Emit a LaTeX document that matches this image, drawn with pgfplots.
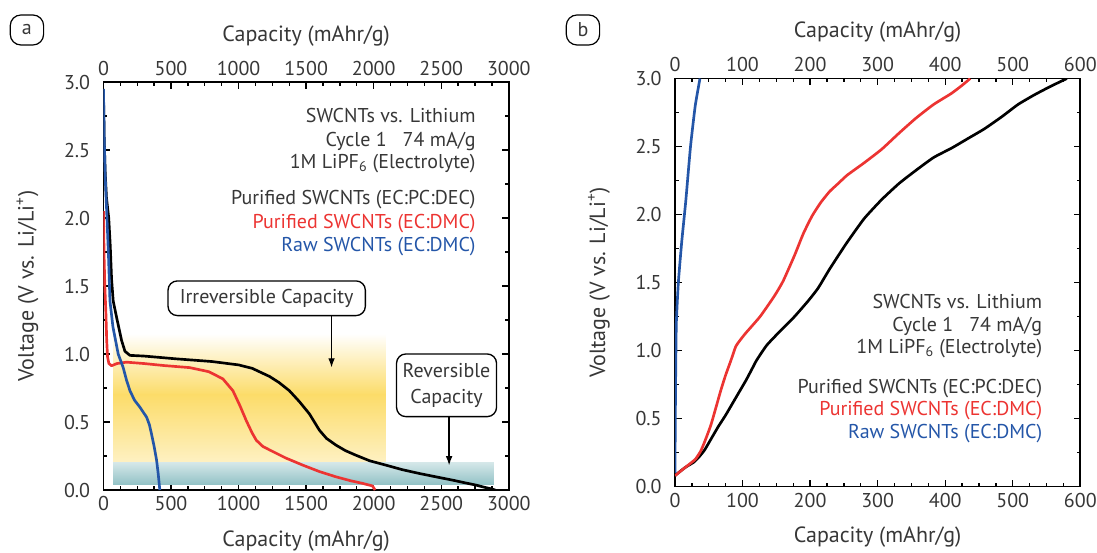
\documentclass[border=0pt]{standalone}
\usepackage{fontspec}
\setmainfont{PT Sans}
\usepackage{pgfplots}
\pgfplotsset{compat=1.18}
\usetikzlibrary{arrows.meta}

\definecolor{redc}{RGB}{236,52,50}
\definecolor{bluec}{RGB}{36,86,168}
\definecolor{yelc}{RGB}{252,220,105}
\definecolor{tealc}{RGB}{146,194,198}
\definecolor{txt}{RGB}{55,55,55}

\newcommand\labfont{\fontsize{16.5}{19}\selectfont}
\newcommand\tickfont{\fontsize{15}{17}\selectfont}

\pgfplotsset{
  vaxis/.style={
    scale only axis, width=304pt, height=306pt,
    ymin=0, ymax=3, ytick={0,0.5,1,1.5,2,2.5,3}, minor y tick num=1,
    axis line style={line width=1.4pt},
    every tick/.style={line width=1pt, black},
    major tick length=5pt, minor tick length=2.8pt,
    tick label style={font=\tickfont, text=txt},
    y tick label style={/pgf/number format/fixed, /pgf/number format/fixed zerofill, /pgf/number format/precision=1},
    /pgf/number format/assume math mode=true,
    /pgf/number format/1000 sep={},
    yticklabel shift=6.5pt, xticklabel shift=1.5pt,
    ylabel={Voltage (V vs. Li/Li\textsuperscript{+})},
    xlabel={Capacity (mAhr/g)},
    every axis y label/.style={at={(axis description cs:0,0.5)}, xshift=-57pt, rotate=90, anchor=center, font=\labfont, text=txt},
    every axis x label/.style={at={(axis description cs:0.5,0)}, yshift=-38pt, anchor=center, font=\labfont, text=txt},
  },
  topaxis/.style={
    scale only axis, width=304pt, height=306pt,
    ymin=0, ymax=3, axis x line*=top, axis y line=none,
    axis line style={draw=none}, xtick style={draw=none},
    tick label style={font=\tickfont, text=txt},
    /pgf/number format/assume math mode=true,
    /pgf/number format/1000 sep={},
    xticklabel shift=1.5pt,
    xlabel={Capacity (mAhr/g)},
    every axis x label/.style={at={(axis description cs:0.5,1)}, yshift=34.5pt, anchor=center, font=\labfont, text=txt},
  },
}
\tikzset{
  curve/.style={line width=2pt, line join=round},
  note/.style={font=\fontsize{15}{17}\selectfont, anchor=mid east, inner sep=0pt},
  callout/.style={draw, rounded corners=7pt, line width=1pt, fill=white, text=txt, font=\fontsize{15}{19.5}\selectfont},
  tag/.style={draw, rounded corners=8pt, line width=0.9pt, minimum width=25pt, minimum height=22.5pt, inner sep=0pt, font=\fontsize{15}{17}\selectfont, text=txt},
}

\begin{document}
\begin{tikzpicture}
\path[use as bounding box] (-77.6pt,-46.5pt) rectangle (745.1pt,367.5pt);

% ---------- panel a ----------
\begin{axis}[vaxis, at={(0pt,0pt)}, xmin=0, xmax=3000, xtick={0,500,...,3000}, minor x tick num=3]
% shaded regions
\addplot[draw=none, top color=white, middle color=yelc!55, bottom color=yelc] coordinates {(72,0.7) (2090,0.7) (2090,1.15) (72,1.15)} -- cycle;
\addplot[draw=none, top color=yelc, middle color=yelc!85, bottom color=yelc!40] coordinates {(72,0.2) (2090,0.2) (2090,0.705) (72,0.705)} -- cycle;
\addplot[draw=none, top color=tealc!40, bottom color=tealc] coordinates {(72,0.04) (2889,0.04) (2889,0.2) (72,0.2)} -- cycle;

\addplot[curve, black] coordinates {
(0,2.92) (5,2.6) (12,2.35) (22,2.15) (39,2.0) (50,1.8) (60,1.55) (72,1.39) (97,1.27) (134,1.10)
(159,1.02) (196,0.99) (300,0.985) (532,0.965) (800,0.945) (1000,0.92) (1100,0.895) (1229,0.835)
(1300,0.79) (1376,0.73) (1450,0.65) (1524,0.56) (1598,0.44) (1650,0.38) (1721,0.33) (1790,0.29)
(1868,0.256) (1970,0.215) (2090,0.183) (2210,0.15) (2336,0.122) (2460,0.097) (2582,0.073)
(2680,0.052) (2754,0.037) (2820,0.02) (2865,0.01) (2900,0.0)};

\addplot[curve, redc] coordinates {
(0,2.05) (2,1.9) (5,1.7) (10,1.5) (18,1.3) (24,1.1) (30,0.98) (40,0.93) (60,0.914) (100,0.93)
(171,0.94) (300,0.93) (450,0.915) (638,0.90) (780,0.87) (884,0.817) (958,0.73) (1010,0.62)
(1057,0.51) (1100,0.42) (1131,0.366) (1180,0.32) (1229,0.295) (1350,0.235) (1475,0.183)
(1600,0.135) (1721,0.097) (1830,0.068) (1917,0.049) (1991,0.03) (2010,0.0)};

\addplot[curve, bluec] coordinates {
(0,2.95) (5,2.6) (13,2.3) (26,2.0) (38,1.7) (48,1.39) (70,1.2) (109,1.0) (146,0.9) (170,0.81)
(196,0.73) (230,0.66) (269,0.61) (319,0.536) (340,0.48) (356,0.41) (375,0.32) (393,0.22)
(405,0.12) (417,0.0)};

\node[callout, minimum width=148pt, minimum height=26pt] at (axis cs:1208,1.41) {Irreversible Capacity};
\draw[-{Latex[length=7pt,width=5pt]}, line width=1pt] (axis cs:1688,1.28) -- (axis cs:1688,0.9);
\node[callout, minimum width=75pt, minimum height=47pt, align=center] at (axis cs:2539,0.77) {Reversible\\Capacity};
\draw[-{Latex[length=7pt,width=5pt]}, line width=1pt] (axis cs:2558,0.54) -- (axis cs:2558,0.18);

\node[note, text=txt] at (axis cs:2756,2.725) {SWCNTs vs. Lithium};
\node[note, text=txt] at (axis cs:2756,2.55) {Cycle 1\hspace{0.8em}74 mA/g};
\node[note, text=txt] at (axis cs:2756,2.39) {1M LiPF\textsubscript{6} (Electrolyte)};
\node[note, text=txt] at (axis cs:2756,2.125) {Purified SWCNTs (EC:PC:DEC)};
\node[note, text=redc] at (axis cs:2756,1.95) {Purified SWCNTs (EC:DMC)};
\node[note, text=bluec] at (axis cs:2756,1.775) {Raw SWCNTs (EC:DMC)};
\end{axis}
\begin{axis}[topaxis, at={(0pt,0pt)}, xmin=0, xmax=3000, xtick={0,500,...,3000}]
\end{axis}

% ---------- panel b ----------
\begin{axis}[vaxis, at={(428.6pt,2.6pt)}, xmin=0, xmax=600, xtick={0,100,...,600}, minor x tick num=3]
\addplot[curve, black, smooth, tension=0.3] coordinates {
(0,0.08) (3,0.093) (15,0.14) (28,0.18) (36,0.22) (44,0.27) (54,0.355) (64,0.44) (75,0.525)
(85,0.61) (95,0.695) (105,0.78) (113,0.855) (121,0.93) (136,1.04) (157,1.15) (177,1.25)
(198,1.37) (212,1.46) (229,1.60) (254,1.79) (280,1.97) (306,2.11) (332,2.23) (358,2.33)
(383,2.42) (410,2.49) (434,2.56) (458,2.63) (484,2.72) (508,2.81) (532,2.88) (555,2.94)
(580,3.0)};

\addplot[curve, redc, smooth, tension=0.3] coordinates {
(0,0.08) (15,0.14) (30,0.2) (38,0.26) (44,0.33) (53,0.45) (60,0.57) (68,0.71) (75,0.82)
(83,0.93) (90,1.03) (97,1.08) (105,1.13) (126,1.25) (147,1.40) (160,1.51) (177,1.70)
(190,1.86) (203,1.99) (216,2.09) (229,2.17) (242,2.23) (255,2.29) (280,2.38) (306,2.48)
(332,2.60) (357,2.71) (383,2.81) (409,2.89) (425,2.95) (437,3.0)};

\addplot[curve, bluec, smooth, tension=0.3] coordinates {
(0,0.1) (0.5,0.5) (1,0.8) (2,1.2) (5,1.5) (10,1.8) (16,2.1) (23,2.5) (30,2.8) (37,3.0)};

\node[note, text=txt] at (axis cs:544,1.336) {SWCNTs vs. Lithium};
\node[note, text=txt] at (axis cs:544,1.164) {Cycle 1\hspace{0.8em}74 mA/g};
\node[note, text=txt] at (axis cs:544,1.005) {1M LiPF\textsubscript{6} (Electrolyte)};
\node[note, text=txt] at (axis cs:544,0.71) {Purified SWCNTs (EC:PC:DEC)};
\node[note, text=redc] at (axis cs:544,0.544) {Purified SWCNTs (EC:DMC)};
\node[note, text=bluec] at (axis cs:544,0.38) {Raw SWCNTs (EC:DMC)};
\end{axis}
\begin{axis}[topaxis, at={(428.6pt,2.6pt)}, xmin=0, xmax=600, xtick={0,100,...,600}]
\end{axis}

\node[tag] at (-57.4pt,345pt) {a};
\node[tag] at (359.6pt,345pt) {b};
\end{tikzpicture}
\end{document}
